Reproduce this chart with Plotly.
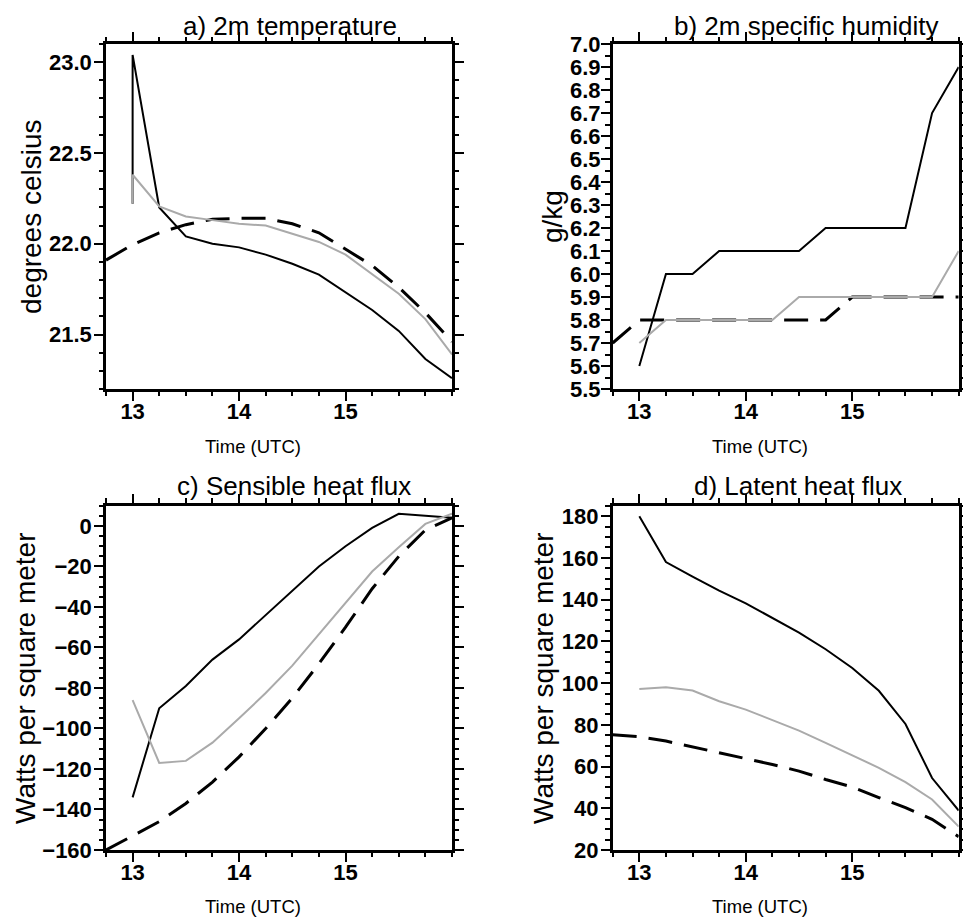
import plotly.graph_objects as go

# ---------------- data ----------------
hours = [12.75, 13.0, 13.25, 13.5, 13.75, 14.0, 14.25, 14.5, 14.75, 15.0, 15.25, 15.5, 15.75, 16.0]
model_hours = [13.0, 13.25, 13.5, 13.75, 14.0, 14.25, 14.5, 14.75, 15.0, 15.25, 15.5, 15.75, 16.0]
temp_model_hours = [13.0, 13.0, 13.25, 13.5, 13.75, 14.0, 14.25, 14.5, 14.75, 15.0, 15.25, 15.5, 15.75, 16.0]

temp_black = [22.22, 23.04, 22.20, 22.04, 22.00, 21.98, 21.94, 21.89, 21.83, 21.73, 21.635, 21.52, 21.365, 21.26]
temp_gray = [22.22, 22.38, 22.205, 22.15, 22.13, 22.11, 22.10, 22.055, 22.01, 21.94, 21.83, 21.725, 21.585, 21.39]
temp_dash = [21.91, 21.995, 22.06, 22.105, 22.135, 22.14, 22.14, 22.11, 22.06, 21.97, 21.88, 21.76, 21.62, 21.46]

hum_black = [5.6, 6.0, 6.0, 6.1, 6.1, 6.1, 6.1, 6.2, 6.2, 6.2, 6.2, 6.7, 6.9]
hum_gray = [5.7, 5.8, 5.8, 5.8, 5.8, 5.8, 5.9, 5.9, 5.9, 5.9, 5.9, 5.9, 6.1]
hum_dash = [5.7, 5.8, 5.8, 5.8, 5.8, 5.8, 5.8, 5.8, 5.8, 5.9, 5.9, 5.9, 5.9, 5.9]

sh_black = [-134, -90, -79, -66, -56, -44, -32, -20, -10, -1, 6, 5, 4]
sh_gray = [-86, -117, -116, -107, -95, -82.5, -69, -53.5, -37.5, -22.5, -10.5, 1, 6]
sh_dash = [-160, -153, -146, -137, -126.5, -114, -100, -85, -68, -50, -31, -15, -2, 4]

lh_black = [180, 158, 151, 144.3, 138.2, 131, 124.2, 116.2, 107.2, 96.3, 80.4, 54.5, 38.9]
lh_gray = [97.2, 98, 96.4, 91.3, 87.3, 82.2, 77.2, 71.3, 65.3, 59.4, 52.5, 44.2, 31.2]
lh_dash = [75.2, 74.3, 72.2, 69.5, 66.6, 63.8, 61, 57.8, 53.8, 50.2, 45.1, 40.3, 34.7, 26.4]

panel_titles = ["a) 2m temperature", "b) 2m specific humidity",
                "c) Sensible heat flux", "d) Latent heat flux"]
y_titles = ["degrees celsius", "g/kg", "Watts per square meter", "Watts per square meter"]
x_title = "Time (UTC)"
x_tick_values = [13, 14, 15]

# ---------------- figure ----------------
W, H = 963, 917
FONT = "Liberation Sans, Arial, sans-serif"
GRAY = "#aaaaaa"

fig = go.Figure()

panels = [
    (temp_model_hours, temp_black, temp_gray, hours, temp_dash),
    (model_hours, hum_black, hum_gray, hours, hum_dash),
    (model_hours, sh_black, sh_gray, hours, sh_dash),
    (model_hours, lh_black, lh_gray, hours, lh_dash),
]

for i, (mx, blk, gry, dx, dsh) in enumerate(panels):
    xa = "x" if i == 0 else f"x{i+1}"
    ya = "y" if i == 0 else f"y{i+1}"
    fig.add_trace(go.Scatter(x=dx, y=dsh, mode="lines", xaxis=xa, yaxis=ya,
                             line=dict(color="black", width=3, dash="24px,12px"),
                             showlegend=False))
    fig.add_trace(go.Scatter(x=mx, y=blk, mode="lines", xaxis=xa, yaxis=ya,
                             line=dict(color="black", width=2), showlegend=False))
    fig.add_trace(go.Scatter(x=mx, y=gry, mode="lines", xaxis=xa, yaxis=ya,
                             line=dict(color=GRAY, width=2), showlegend=False))


def px_x(p):
    return p / W


def px_y(p):
    return 1 - p / H


col_dom = [[106 / W, 452 / W], [612.7 / W, 958.7 / W]]
row_dom = [[px_y(389), px_y(44)], [px_y(850), px_y(505.7)]]

tickfont = dict(family=FONT, size=22, color="black", weight="bold")

yspecs = [
    dict(range=[21.2, 23.1], tick0=21.5, dtick=0.5, tickformat=".1f", minor_dtick=0.1, minor_tick0=21.2, standoff=-2),
    dict(range=[5.5, 7.0], tick0=5.5, dtick=0.1, tickformat=".1f", minor_dtick=0.05, minor_tick0=5.5, standoff=-4),
    dict(range=[-160, 10], tick0=0, dtick=20, tickformat="d", minor_dtick=5, minor_tick0=0, standoff=-2),
    dict(range=[20, 185], tick0=20, dtick=20, tickformat="d", minor_dtick=5, minor_tick0=20, standoff=-2),
]

layout = dict(width=W, height=H, template="none",
              margin=dict(l=0, r=0, t=0, b=0),
              paper_bgcolor="white", plot_bgcolor="white",
              showlegend=False)

for i in range(4):
    r, c = divmod(i, 2)
    sx = "" if i == 0 else str(i + 1)
    xa_name = "x" if i == 0 else f"x{i+1}"
    ya_name = "y" if i == 0 else f"y{i+1}"
    layout["xaxis" + sx] = dict(
        domain=col_dom[c], anchor=ya_name, range=[12.75, 16.0],
        tickmode="array", tickvals=x_tick_values, ticktext=[str(v) for v in x_tick_values],
        ticks="outside", ticklen=9, tickwidth=2, tickcolor="black",
        minor=dict(ticks="outside", ticklen=4.5, tickwidth=2, tickcolor="black",
                   dtick=0.25, tick0=12.75, showgrid=False),
        showline=True, linecolor="black", linewidth=2.5, mirror="allticks",
        showgrid=False, zeroline=False, automargin=False,
        tickfont=tickfont, ticklabelstandoff=-8, fixedrange=True,
    )
    s = yspecs[i]
    layout["yaxis" + sx] = dict(
        domain=row_dom[r], anchor=xa_name, range=s["range"],
        tick0=s["tick0"], dtick=s["dtick"], tickformat=s["tickformat"],
        ticks="outside", ticklen=9, tickwidth=2, tickcolor="black",
        minor=dict(ticks="outside", ticklen=4.5, tickwidth=2, tickcolor="black",
                   dtick=s["minor_dtick"], tick0=s["minor_tick0"], showgrid=False),
        showline=True, linecolor="black", linewidth=2.5, mirror="allticks",
        showgrid=False, zeroline=False, automargin=False,
        tickfont=tickfont, ticklabelstandoff=s["standoff"], fixedrange=True,
    )

fig.update_layout(**layout)

# panel titles
title_pos = [(290, 26), (806, 26), (294, 486), (797.5, 486)]
for t, (x, y) in zip(panel_titles, title_pos):
    fig.add_annotation(text=t, x=px_x(x), y=px_y(y), xref="paper", yref="paper",
                       xanchor="center", yanchor="middle", showarrow=False,
                       font=dict(family=FONT, size=26, color="black"))

# y-axis titles
ytitle_pos = [(31, 217), (552, 217), (25, 678), (543, 678)]
for t, (x, y) in zip(y_titles, ytitle_pos):
    fig.add_annotation(text=t, x=px_x(x), y=px_y(y), xref="paper", yref="paper",
                       xanchor="center", yanchor="middle", showarrow=False, textangle=-90,
                       font=dict(family=FONT, size=28, color="black"))

# x-axis titles
xtitle_pos = [(253, 447), (760, 447), (253, 906), (760, 906)]
for (x, y) in xtitle_pos:
    fig.add_annotation(text=x_title, x=px_x(x), y=px_y(y), xref="paper", yref="paper",
                       xanchor="center", yanchor="middle", showarrow=False,
                       font=dict(family=FONT, size=18.5, color="black"))

fig.write_html("out.html",
               config={"displayModeBar": False, "responsive": False},
               post_script="document.body.style.margin='0px';document.body.style.padding='0px';"
                           "document.documentElement.style.overflow='hidden';")
